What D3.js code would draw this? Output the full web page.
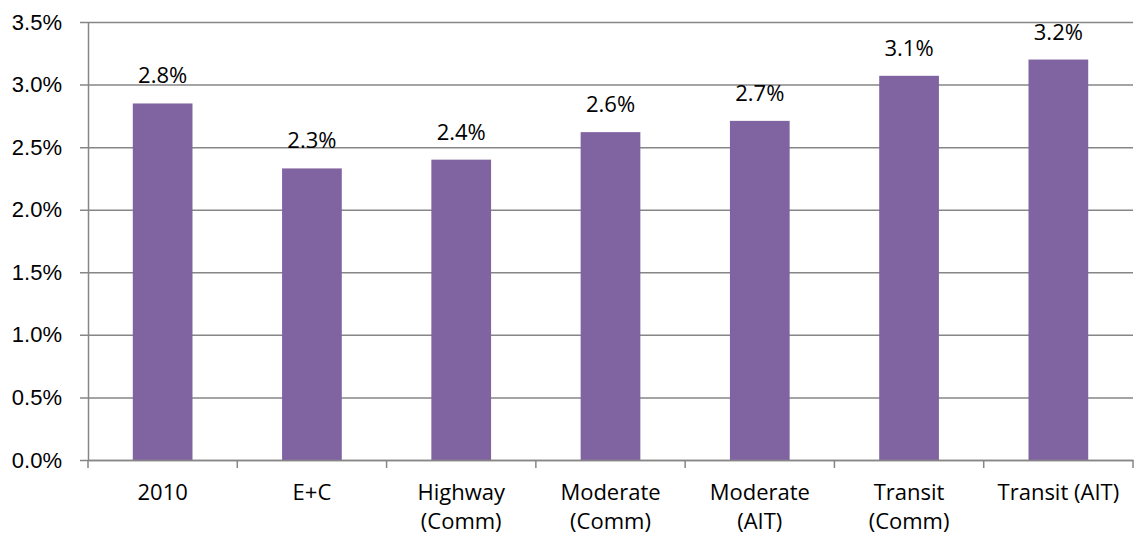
<!DOCTYPE html>
<html lang="en">
  <head>
    <meta charset="UTF-8" />
    <title>Growth by scenario</title>
    <script src="https://d3js.org/d3.v7.min.js"></script>
    <style>
      body {
        margin: 0;
        background: #fff;
        font-family: "Open Sans", Arial, sans-serif;
      }
      .tick text {
        font-size: 22px;
        fill: #000;
      }
    </style>
  </head>
  <body>
    <div id="chart"></div>
    <script>
      // data
      const categories = ["2010", "E+C", "Highway (Comm)", "Moderate (Comm)", "Moderate (AIT)", "Transit (Comm)", "Transit (AIT)"];
      const categoryLines = [["2010"], ["E+C"], ["Highway", "(Comm)"], ["Moderate", "(Comm)"], ["Moderate", "(AIT)"], ["Transit", "(Comm)"], ["Transit (AIT)"]];
      const values = [0.02849, 0.0233, 0.024, 0.0262, 0.0271, 0.0307, 0.032];
      const yTicks = [0, 0.005, 0.01, 0.015, 0.02, 0.025, 0.03, 0.035];

      const width = 1142, height = 540;
      const margin = { top: 22, right: 9, bottom: 80, left: 88 };

      const svg = d3.select("#chart").append("svg")
        .attr("width", width)
        .attr("height", height);

      const x = d3.scaleBand()
        .domain(categories)
        .range([margin.left, width - margin.right])
        .paddingInner(0.6)
        .paddingOuter(0.3);

      const y = d3.scaleLinear()
        .domain([0, 0.035])
        .range([height - margin.bottom, margin.top]);

      const fmt = d3.format(".1%");

      // gridlines + y axis
      const yAxis = svg.append("g")
        .attr("transform", `translate(${margin.left},0)`)
        .call(d3.axisLeft(y).tickValues(yTicks).tickFormat(fmt)
          .tickSize(-(width - margin.left - margin.right)).tickSizeOuter(0).tickPadding(26));
      yAxis.select(".domain").attr("stroke", "#868686").attr("stroke-width", 1.5);
      yAxis.selectAll(".tick line")
        .attr("stroke", "#868686").attr("stroke-width", 1.5)
        .attr("x1", -8);

      // bars
      svg.append("g").selectAll("rect")
        .data(values)
        .join("rect")
        .attr("x", (d, i) => x(categories[i]))
        .attr("width", x.bandwidth())
        .attr("y", d => y(d))
        .attr("height", d => y(0) - y(d))
        .attr("fill", "#8064A2");

      // value labels
      svg.append("g").selectAll("text")
        .data(values)
        .join("text")
        .attr("x", (d, i) => x(categories[i]) + x.bandwidth() / 2)
        .attr("y", d => y(d) - 20)
        .attr("text-anchor", "middle")
        .attr("font-size", 22)
        .text(d => fmt(d));

      // x axis
      const xAxis = svg.append("g")
        .attr("transform", `translate(0,${y(0)})`)
        .call(d3.axisBottom(x).tickSize(0).tickFormat(""));
      xAxis.select(".domain").attr("stroke", "#868686").attr("stroke-width", 1.5);

      // category separators
      const seps = d3.range(categories.length + 1).map(i => margin.left + i * (width - margin.left - margin.right) / categories.length);
      xAxis.selectAll("line.sep")
        .data(seps)
        .join("line")
        .attr("class", "sep")
        .attr("x1", d => d).attr("x2", d => d)
        .attr("y1", 0).attr("y2", 8)
        .attr("stroke", "#868686").attr("stroke-width", 1.5);

      // category labels
      const lab = svg.append("g").selectAll("text")
        .data(categoryLines)
        .join("text")
        .attr("x", (d, i) => x(categories[i]) + x.bandwidth() / 2)
        .attr("y", y(0) + 40)
        .attr("text-anchor", "middle")
        .attr("font-size", 22);
      lab.selectAll("tspan")
        .data(d => d)
        .join("tspan")
        .attr("x", function () { return this.parentNode.getAttribute("x"); })
        .attr("dy", (d, i) => i === 0 ? 0 : 29)
        .text(d => d);
    </script>
  </body>
</html>
